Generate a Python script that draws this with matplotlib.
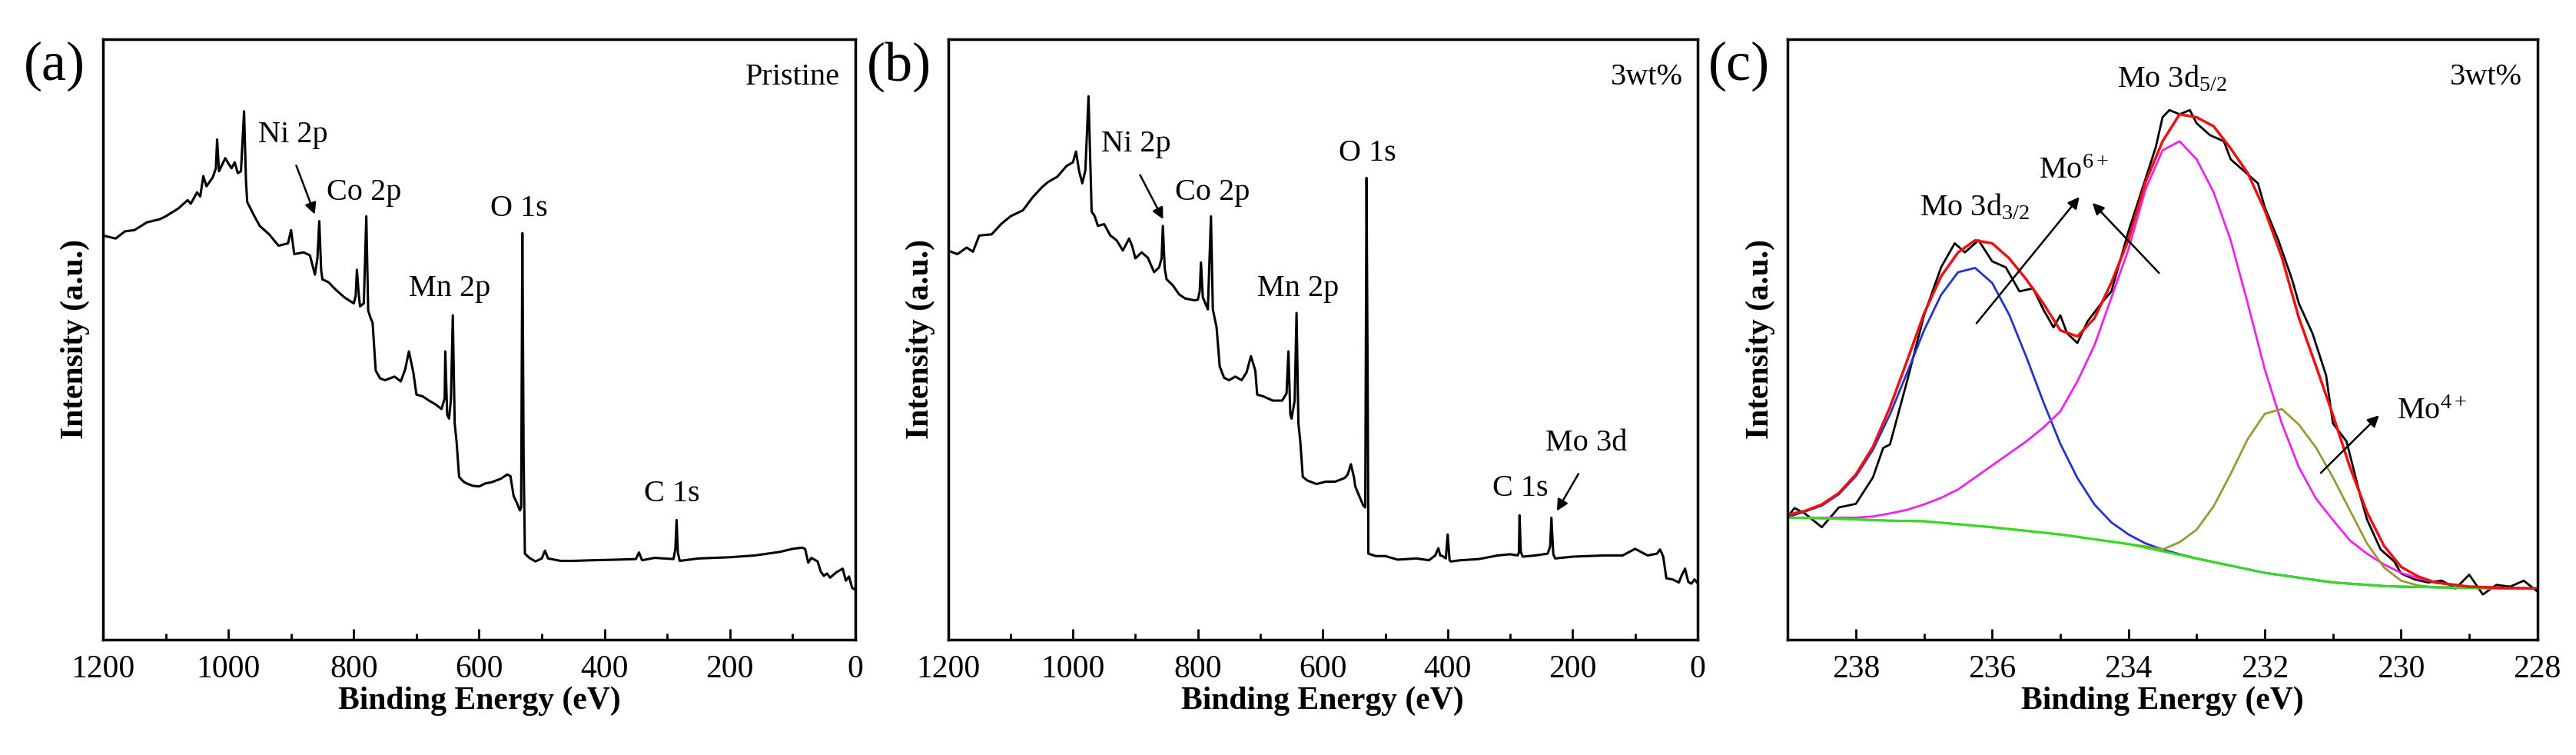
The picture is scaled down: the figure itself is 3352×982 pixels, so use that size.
import matplotlib
matplotlib.use("Agg")
import matplotlib.pyplot as plt
from matplotlib.ticker import MultipleLocator

plt.rcParams['font.family'] = ['Liberation Serif', 'DejaVu Serif']
plt.rcParams['mathtext.fontset'] = 'custom'
plt.rcParams['mathtext.rm'] = 'Liberation Serif'
plt.rcParams['mathtext.it'] = 'Liberation Serif:italic'
plt.rcParams['mathtext.default'] = 'rm'

# survey spectrum, pristine (binding energy eV, intensity a.u.)
e_a = [1200, 1180, 1165, 1150, 1130, 1110, 1100, 1080, 1065, 1060, 1050, 1045, 1040, 1035,
       1025, 1020, 1018, 1015, 1005, 1000, 995, 990, 985, 980, 975, 972, 970, 960, 950,
       935, 920, 905, 900, 895, 880, 870, 862, 858, 855, 852, 850, 840, 830, 815, 800,
       797, 795, 792, 790, 784, 780, 777, 773, 770, 765, 758, 750, 735, 725, 718, 712,
       705, 700, 690, 680, 670, 660, 655, 654, 651, 648, 645, 642, 639, 636, 632, 625,
       620, 610, 600, 590, 580, 565, 555, 550, 545, 540, 535, 533, 531, 529, 527, 520,
       510, 500, 495, 490, 470, 450, 420, 380, 350, 345, 340, 320, 290, 287, 285, 283,
       280, 250, 200, 160, 120, 100, 85, 80, 75, 70, 60, 55, 50, 45, 40, 30, 20, 15, 10, 5, 0]
i_a = [67.3, 66.8, 68.0, 68.2, 69.5, 70.0, 70.5, 71.8, 73.2, 72.6, 74.5, 73.8, 77.2, 75.5,
       77.0, 78.5, 83.3, 78.0, 80.2, 79.3, 78.5, 79.5, 77.7, 78.0, 88.0, 76.5, 72.9, 70.8, 68.9,
       67.5, 65.6, 66.0, 68.2, 64.2, 64.5, 64.0, 60.8, 63.5, 69.7, 61.5, 60.0, 59.5, 58.4, 57.0, 56.0,
       57.2, 61.6, 57.5, 55.5, 56.0, 70.5, 54.8, 53.5, 52.8, 44.8, 43.5, 43.2, 43.8, 43.0, 45.0, 48.0,
       44.5, 40.8, 40.5, 39.8, 39.2, 38.4, 40.2, 48.0, 37.5, 36.8, 40.0, 54.0, 36.0, 33.0, 27.1, 26.3,
       26.0, 25.6, 25.5, 26.0, 26.2, 26.8, 27.5, 27.2, 23.9, 22.8, 21.5, 22.0, 67.7, 30.0, 14.3, 13.6,
       13.0, 13.5, 14.8, 13.5, 13.1, 13.1, 13.2, 13.3, 13.4, 14.5, 13.2, 13.6, 13.4, 15.0, 19.9, 14.5,
       13.1, 13.5, 13.7, 14.0, 14.6, 15.1, 15.3, 15.1, 12.8, 13.6, 13.0, 11.3, 10.6, 11.0, 10.3, 11.2,
       11.8, 9.8, 10.5, 8.6, 8.3]

# survey spectrum, 3wt%
e_b = [1200, 1185, 1170, 1160, 1150, 1130, 1115, 1100, 1080, 1065, 1050, 1040, 1025, 1010,
       1000, 995, 990, 985, 980, 975, 972, 970, 965, 960, 950, 940, 930, 920, 910, 905,
       900, 890, 880, 870, 862, 858, 856, 853, 850, 840, 830, 820, 805, 800, 797, 795,
       792, 790, 784, 779, 776, 770, 765, 758, 750, 740, 730, 722, 715, 708, 705, 695,
       680, 665, 658, 655, 652, 650, 645, 642, 639, 636, 632, 625, 610, 595, 580, 565,
       560, 555, 550, 548, 540, 535, 532, 530, 528, 527, 515, 500, 480, 450, 430, 420,
       415, 412, 410, 403, 400, 397, 395, 380, 350, 320, 300, 288, 286, 285, 283, 280,
       260, 240, 236, 234, 231, 228, 200, 150, 120, 100, 80, 65, 60, 55, 50, 40, 30, 25,
       20, 15, 10, 5, 0]
i_b = [64.8, 64.2, 65.3, 64.6, 67.3, 67.5, 69.2, 70.5, 71.5, 73.6, 75.3, 76.2, 77.1, 78.9,
       79.5, 81.3, 78.0, 76.0, 78.2, 90.5, 79.0, 71.3, 70.5, 68.9, 69.2, 67.3, 66.5, 64.8, 66.8,
       65.5, 63.5, 64.5, 63.6, 61.2, 62.0, 63.5, 68.9, 61.8, 60.0, 59.0, 57.5, 56.8, 56.5, 56.6,
       58.0, 62.8, 57.0, 56.5, 55.0, 70.5, 55.0, 52.0, 45.5, 43.6, 43.2, 43.8, 43.2, 44.5, 47.2,
       44.8, 40.8, 40.5, 39.8, 39.8, 41.0, 48.0, 37.5, 36.8, 39.8, 54.4, 36.0, 33.0, 27.1, 26.5,
       25.9, 26.3, 26.3, 26.9, 27.5, 29.2, 27.0, 25.5, 23.5, 22.3, 22.0, 76.9, 40.0, 14.3,
       13.9, 13.9, 13.3, 13.5, 13.2, 14.0, 15.2, 14.0, 14.0, 13.5, 17.5, 13.2, 13.0, 13.2, 13.4,
       14.0, 14.2, 14.0, 14.5, 20.7, 14.6, 13.8, 14.0, 14.3, 15.5, 20.3, 14.2, 13.5, 13.8, 14.0,
       14.0, 15.1, 14.0, 14.3, 15.0, 13.8, 10.2, 10.0, 9.5, 10.8, 11.8, 9.6, 9.3, 10.0, 9.4]

# Mo 3d high resolution spectrum
e_raw = [239, 238.9, 238.75, 238.5, 238.25, 238, 237.75, 237.6, 237.5, 237.25, 237, 236.75,
         236.55, 236.4, 236.2, 236, 235.8, 235.6, 235.4, 235.25, 235.1, 235, 234.9, 234.75,
         234.6, 234.4, 234.25, 234, 233.8, 233.6, 233.5, 233.4, 233.25, 233.1, 233, 232.8,
         232.6, 232.5, 232.3, 232.1, 232, 231.8, 231.6, 231.5, 231.3, 231.1, 231, 230.8, 230.6,
         230.5, 230.3, 230.1, 230, 229.8, 229.6, 229.4, 229.2, 229, 228.8, 228.6, 228.4, 228.2, 228]
i_raw = [20.5, 21.9, 21.0, 18.7, 22.0, 22.6, 27.0, 31.9, 32.5, 43.0, 54.0, 62.0,
         66.0, 64.5, 66.5, 63.0, 62.0, 58.0, 58.5, 55.0, 52.0, 54.0, 51.0, 49.4,
         53.0, 56.0, 58.0, 68.0, 75.0, 82.0, 87.0, 88.2, 87.5, 88.2, 86.0, 84.0,
         83.0, 80.0, 78.0, 76.0, 72.0, 66.5, 60.0, 56.0, 51.0, 44.0, 36.0, 33.0, 24.0,
         20.0, 15.0, 13.0, 11.0, 10.0, 9.5, 9.8, 8.5, 10.8, 7.5, 9.1, 8.8, 9.8, 8.0]

e_fit = [239, 238.75, 238.5, 238.25, 238, 237.75, 237.5, 237.25, 237, 236.75, 236.5, 236.25,
         236, 235.75, 235.5, 235.25, 235, 234.75, 234.5, 234.25, 234, 233.75, 233.5, 233.25,
         233, 232.75, 232.5, 232.25, 232, 231.75, 231.5, 231.25, 231, 230.75, 230.5, 230.25,
         230, 229.75, 229.5, 229, 228.5, 228]
i_env = [20.8, 21.4, 22.5, 24.4, 27.5, 32.1, 38.7, 46.4, 54.3, 60.5, 64.5, 66.5,
         66.0, 63.5, 60.0, 56.0, 51.5, 50.5, 53.5, 59.5, 66.6, 76.2, 83.0, 87.5,
         87.0, 85.5, 81.8, 77.7, 71.5, 63.7, 53.6, 45.6, 37.4, 28.7, 21.2, 15.6,
         12.1, 10.5, 9.5, 8.8, 8.6, 8.5]
i_bg = [20.3, 20.25, 20.2, 20.1, 20.0, 19.9, 19.8, 19.75, 19.7, 19.45, 19.2, 18.95,
        18.7, 18.4, 18.1, 17.8, 17.5, 17.1, 16.7, 16.3, 15.9, 15.3, 14.7, 14.1,
        13.5, 12.9, 12.3, 11.7, 11.1, 10.7, 10.3, 9.9, 9.5, 9.3, 9.1, 8.9,
        8.8, 8.75, 8.7, 8.6, 8.5, 8.5]
i_mo6_32 = [20.4, 21.3, 22.3, 24.2, 27.2, 31.6, 37.5, 44.4, 51.5, 57.4, 61.2, 61.9,
            59.4, 54.1, 47.1, 39.6, 32.6, 26.9, 22.5, 19.5, 17.5, 16.0, 15.0, 14.2,
            13.5, 12.9, 12.3, 11.7, 11.1, 10.7, 10.3, 9.9, 9.5, 9.3, 9.1, 8.9,
            8.8, 8.75, 8.7, 8.6, 8.5, 8.5]
i_mo6_52 = [20.3, 20.3, 20.3, 20.3, 20.3, 20.5, 21.0, 21.6, 22.5, 23.6, 25.0, 27.0,
            29.0, 31.0, 33.0, 35.3, 38.0, 43.0, 49.0, 57.0, 65.0, 75.0, 81.5, 83.0,
            80.0, 74.5, 66.5, 56.0, 45.0, 36.0, 28.7, 23.5, 19.9, 16.5, 14.3, 12.5,
            11.1, 10.2, 9.5, 8.8, 8.6, 8.5]
i_mo4 = [20.3, 20.25, 20.2, 20.1, 20.0, 19.9, 19.8, 19.75, 19.7, 19.45, 19.2, 18.95,
         18.7, 18.4, 18.1, 17.8, 17.5, 17.1, 16.7, 16.3, 15.9, 15.5, 15.0, 16.2,
         18.3, 22.2, 27.6, 33.4, 37.6, 38.4, 35.8, 32.0, 27.0, 21.5, 16.0, 12.0,
         9.8, 9.0, 8.7, 8.6, 8.5, 8.5]

fig = plt.figure(figsize=(33.52, 9.82), dpi=100)
bottom, height = 0.153, 0.795
ax_a = fig.add_axes([0.040, bottom, 0.292, height])
ax_b = fig.add_axes([0.368, bottom, 0.291, height])
ax_c = fig.add_axes([0.694, bottom, 0.291, height])

tick_fs = 30
lab_fs = 30
ann_fs = 29


def style(ax, xlim, major, minor):
    ax.set_xlim(*xlim)
    ax.set_ylim(0, 100)
    ax.xaxis.set_major_locator(MultipleLocator(major))
    ax.xaxis.set_minor_locator(MultipleLocator(minor))
    ax.set_yticks([])
    ax.tick_params(axis='x', which='major', direction='in', length=10, width=2,
                   labelsize=tick_fs, pad=14, top=False)
    ax.tick_params(axis='x', which='minor', direction='in', length=6, width=2, top=False)
    for s in ax.spines.values():
        s.set_linewidth(2.5)
    ax.set_xlabel('Binding Energy (eV)', fontsize=lab_fs, fontweight='bold', labelpad=2)
    ax.set_ylabel('Intensity (a.u.)', fontsize=lab_fs, fontweight='bold', labelpad=12)


def arrow(ax, head, tail):
    ax.annotate('', xy=head, xytext=tail,
                arrowprops=dict(arrowstyle='-|>', color='black', lw=1.8, mutation_scale=22))


def label(ax, x, y, text):
    ax.text(x, y, text, fontsize=ann_fs, ha='center', va='center')


# (a)
ax_a.plot(e_a, i_a, color='black', lw=2.2)
style(ax_a, (1200, 0), 200, 100)
ax_a.text(0.98, 0.96, 'Pristine', transform=ax_a.transAxes, ha='right', va='top', fontsize=ann_fs)
label(ax_a, 897, 84, 'Ni 2p')
arrow(ax_a, (861, 70.5), (893, 79.3))
label(ax_a, 784, 74.5, 'Co 2p')
label(ax_a, 536, 71.7, 'O 1s')
label(ax_a, 647, 58.4, 'Mn 2p')
label(ax_a, 292, 24.3, 'C 1s')

# (b)
ax_b.plot(e_b, i_b, color='black', lw=2.2)
style(ax_b, (1200, 0), 200, 100)
ax_b.text(0.98, 0.96, '3wt%', transform=ax_b.transAxes, ha='right', va='top', fontsize=ann_fs)
label(ax_b, 899, 82.5, 'Ni 2p')
arrow(ax_b, (854, 69.7), (894, 77.7))
label(ax_b, 777, 74.5, 'Co 2p')
label(ax_b, 529, 81, 'O 1s')
label(ax_b, 640, 58.4, 'Mn 2p')
label(ax_b, 284, 25.1, 'C 1s')
label(ax_b, 178, 32.7, 'Mo 3d')
arrow(ax_b, (227, 21.1), (189, 27.9))

# (c)
ax_c.plot(e_raw, i_raw, color='black', lw=2)
ax_c.plot(e_fit, i_mo6_32, color='#2233cc', lw=2)
ax_c.plot(e_fit, i_mo6_52, color='#ee22ee', lw=2)
ax_c.plot(e_fit, i_mo4, color='#999933', lw=2)
ax_c.plot(e_fit, i_bg, color='#33dd22', lw=2.2)
ax_c.plot(e_fit, i_env, color='#ee1111', lw=2.5)
style(ax_c, (239, 228), 2, 1)
ax_c.text(0.98, 0.96, '3wt%', transform=ax_c.transAxes, ha='right', va='top', fontsize=ann_fs)
label(ax_c, 233.36, 93.3, 'Mo 3d$_{5/2}$')
label(ax_c, 236.26, 72, 'Mo 3d$_{3/2}$')
label(ax_c, 234.8, 78, 'Mo$^{6+}$')
arrow(ax_c, (234.7, 74), (236.25, 52.4))
arrow(ax_c, (234.55, 73), (233.53, 60.8))
label(ax_c, 229.55, 38, 'Mo$^{4+}$')
arrow(ax_c, (230.3, 37.6), (231.2, 27.5))

for ax, lab in [(ax_a, '(a)'), (ax_b, '(b)'), (ax_c, '(c)')]:
    x0 = ax.get_position().x0
    fig.text(x0 - 0.019, 0.945, lab, fontsize=52, ha='center', va='top')

fig.savefig('out.png', dpi=100)
